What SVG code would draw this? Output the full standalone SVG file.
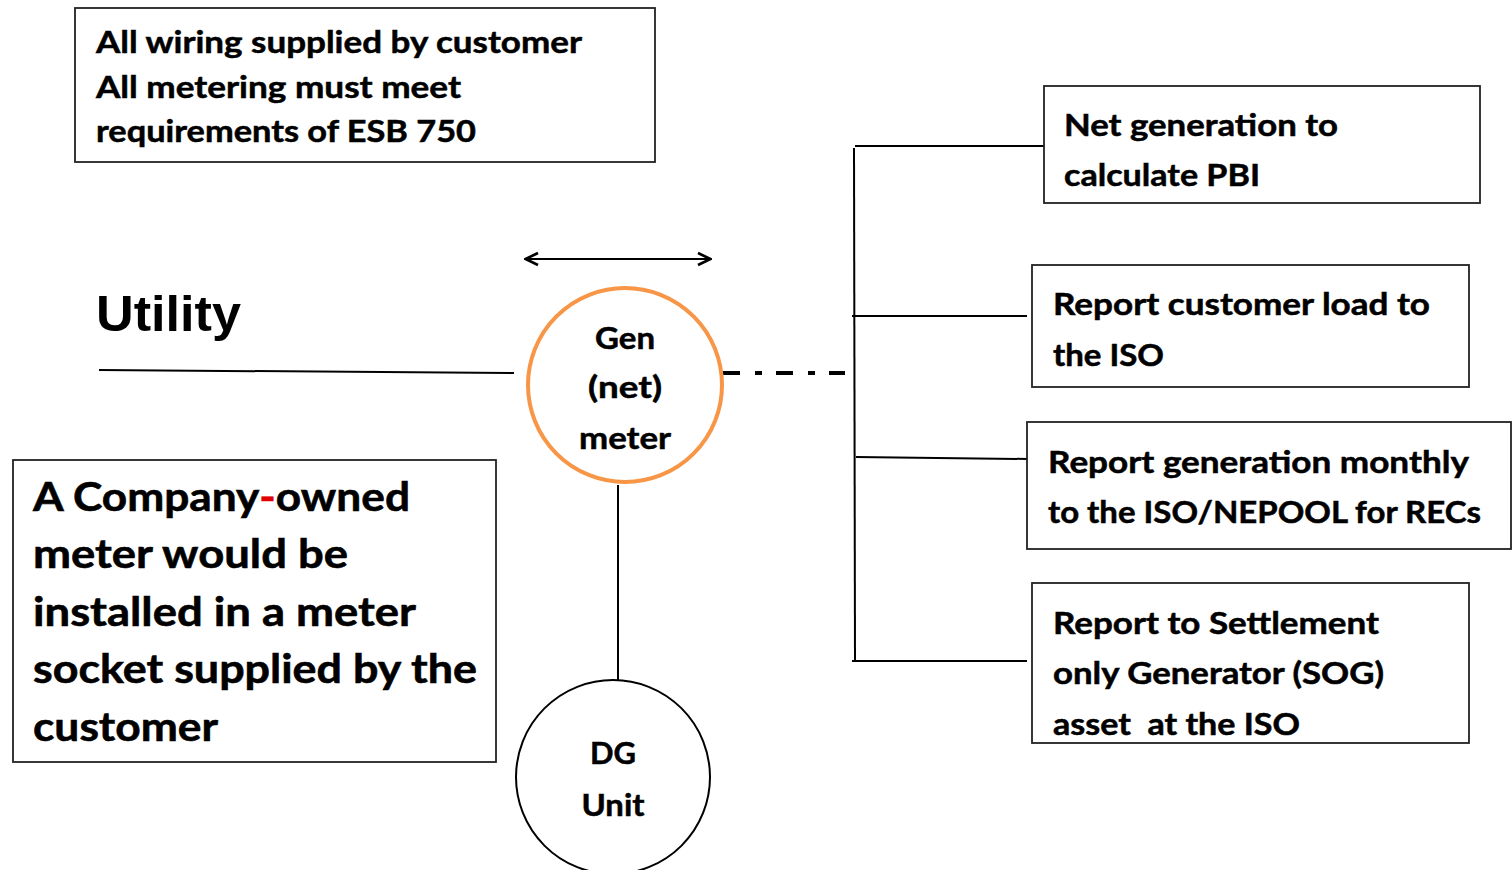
<svg xmlns="http://www.w3.org/2000/svg" width="1512" height="870" viewBox="0 0 1512 870">
<defs>
<style>
.box{fill:#fff;stroke:#222;stroke-width:1.8}
.t{font-family:Lato,"Open Sans","Liberation Sans",sans-serif;font-weight:700;font-size:30px;fill:#000;stroke:#000;stroke-width:0.5}
.tb{font-family:Lato,"Open Sans","Liberation Sans",sans-serif;font-weight:700;font-size:41px;fill:#000;stroke:#000;stroke-width:0.6}
.c{text-anchor:middle}
.ln{stroke:#000;stroke-width:2;fill:none}
</style>
<marker id="ah" viewBox="0 0 16 16" refX="15" refY="8" markerWidth="16" markerHeight="16" markerUnits="userSpaceOnUse" orient="auto-start-reverse">
<path d="M2,2 L14.5,8 L2,14" fill="none" stroke="#000" stroke-width="2.6"/>
</marker>
</defs>
<rect width="1512" height="870" fill="#fff"/>

<g id="connectors">
<line class="ln" x1="99" y1="370" x2="514" y2="373"/>
<line class="ln" x1="525" y1="259" x2="711" y2="259" stroke-width="2.5" marker-start="url(#ah)" marker-end="url(#ah)"/>
<line x1="723" y1="373" x2="845" y2="373" stroke="#000" stroke-width="4" stroke-dasharray="17 15 7 14"/>
<line class="ln" x1="854" y1="148" x2="855" y2="661"/>
<line class="ln" x1="855" y1="146" x2="1044" y2="146" stroke-width="1.5"/>
<line class="ln" x1="852" y1="316" x2="1027" y2="316"/>
<line class="ln" x1="856" y1="457" x2="1027" y2="459"/>
<line class="ln" x1="852" y1="661" x2="1027" y2="661"/>
<line class="ln" x1="618" y1="485" x2="618" y2="680"/>
</g>

<g id="note-wiring">
<rect class="box" x="75" y="8" width="580" height="154"/>
<text class="t" x="96" y="53" textLength="486" lengthAdjust="spacingAndGlyphs">All wiring supplied by customer</text>
<text class="t" x="96" y="98" textLength="365" lengthAdjust="spacingAndGlyphs">All metering must meet</text>
<text class="t" x="96" y="142" textLength="380" lengthAdjust="spacingAndGlyphs">requirements of ESB 750</text>
</g>

<g id="utility">
<text x="96" y="331" font-family="'Liberation Sans',Arial,sans-serif" font-weight="700" font-size="50" textLength="145" lengthAdjust="spacingAndGlyphs">Utility</text>
</g>

<g id="gen-meter">
<circle cx="625" cy="385" r="97" fill="#fff" stroke="#F79646" stroke-width="4"/>
<text class="t c" x="625" y="349" textLength="60" lengthAdjust="spacingAndGlyphs">Gen</text>
<text class="t c" x="625" y="398" textLength="74" lengthAdjust="spacingAndGlyphs">(net)</text>
<text class="t c" x="625" y="449" textLength="92" lengthAdjust="spacingAndGlyphs">meter</text>
</g>

<g id="dg-unit">
<circle cx="613" cy="777" r="97" fill="#fff" stroke="#000" stroke-width="2"/>
<text class="t c" x="613" y="764" textLength="46" lengthAdjust="spacingAndGlyphs">DG</text>
<text class="t c" x="613" y="816" textLength="63" lengthAdjust="spacingAndGlyphs">Unit</text>
</g>

<g id="note-company">
<rect class="box" x="13" y="460" width="483" height="302"/>
<text class="tb" x="33" y="511" textLength="377" lengthAdjust="spacingAndGlyphs">A Company<tspan fill="#E00000" stroke="#E00000">-</tspan>owned</text>
<text class="tb" x="33" y="568" textLength="315" lengthAdjust="spacingAndGlyphs">meter would be</text>
<text class="tb" x="33" y="626" textLength="383" lengthAdjust="spacingAndGlyphs">installed in a meter</text>
<text class="tb" x="33" y="683" textLength="444" lengthAdjust="spacingAndGlyphs">socket supplied by the</text>
<text class="tb" x="33" y="741" textLength="185" lengthAdjust="spacingAndGlyphs">customer</text>
</g>

<g id="box-pbi">
<rect class="box" x="1044" y="86" width="436" height="117"/>
<text class="t" x="1064" y="136" textLength="274" lengthAdjust="spacingAndGlyphs">Net generation to</text>
<text class="t" x="1064" y="186" textLength="196" lengthAdjust="spacingAndGlyphs">calculate PBI</text>
</g>

<g id="box-load">
<rect class="box" x="1032" y="265" width="437" height="122"/>
<text class="t" x="1053" y="315" textLength="377" lengthAdjust="spacingAndGlyphs">Report customer load to</text>
<text class="t" x="1053" y="366" textLength="111" lengthAdjust="spacingAndGlyphs">the ISO</text>
</g>

<g id="box-recs">
<rect class="box" x="1027" y="422" width="484" height="127"/>
<text class="t" x="1048" y="473" textLength="421" lengthAdjust="spacingAndGlyphs">Report generation monthly</text>
<text class="t" x="1048" y="523" textLength="433" lengthAdjust="spacingAndGlyphs">to the ISO/NEPOOL for RECs</text>
</g>

<g id="box-sog">
<rect class="box" x="1032" y="583" width="437" height="160"/>
<text class="t" x="1053" y="634" textLength="326" lengthAdjust="spacingAndGlyphs">Report to Settlement</text>
<text class="t" x="1053" y="684" textLength="331" lengthAdjust="spacingAndGlyphs">only Generator (SOG)</text>
<text class="t" x="1053" y="735" textLength="247" lengthAdjust="spacingAndGlyphs" xml:space="preserve">asset  at the ISO</text>
</g>
</svg>
